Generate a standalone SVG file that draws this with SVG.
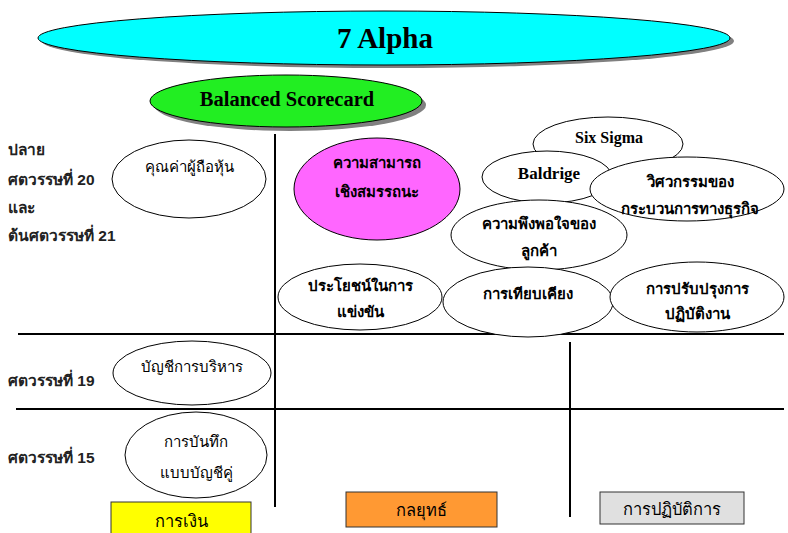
<svg xmlns="http://www.w3.org/2000/svg" width="788" height="533" viewBox="0 0 788 533">
<style>
.ol{stroke:#000;stroke-width:1;}
.w{fill:#fff;}
.sh{fill:#808080;}
.t{font-family:"Liberation Sans","Noto Sans",sans-serif;font-size:15px;fill:#000;text-anchor:middle;}
.tb{font-weight:bold;}
.bt{font-size:16.5px;}
.lab{font-family:"Liberation Sans","Noto Sans",sans-serif;font-size:15.5px;font-weight:bold;fill:#222;}
.s{font-family:"Liberation Serif",serif;font-weight:bold;fill:#000;text-anchor:middle;}
.grid{stroke:#000;stroke-width:2;fill:none;}
.box{stroke:#333;stroke-width:1;}
</style>
<rect width="788" height="533" fill="#fff"/>
<g id="connectors">
<line class="grid" x1="275" y1="134" x2="275" y2="507"/>
<line class="grid" x1="18" y1="334" x2="784" y2="334"/>
<line class="grid" x1="16" y1="409" x2="784" y2="409"/>
<line class="grid" x1="570" y1="342" x2="570" y2="517"/>
</g>
<g id="alpha">
<ellipse class="sh" cx="388" cy="41" rx="346" ry="27"/>
<ellipse class="ol" cx="384" cy="38" rx="346" ry="27" fill="#00ffff"/>
<text class="s" x="385" y="48" font-size="29">7 Alpha</text>
</g>
<g id="bsc">
<ellipse class="sh" cx="290" cy="105" rx="136" ry="26"/>
<ellipse class="ol" cx="286" cy="101" rx="136" ry="26" fill="#22ee22"/>
<text class="s" x="287" y="106" font-size="20.5">Balanced Scorecard</text>
</g>
<g id="labels">
<text class="lab" x="8" y="155">ปลาย</text>
<text class="lab" x="8" y="185">ศตวรรษที่ 20</text>
<text class="lab" x="8" y="213">และ</text>
<text class="lab" x="8" y="241">ต้นศตวรรษที่ 21</text>
<text class="lab" x="8" y="386">ศตวรรษที่ 19</text>
<text class="lab" x="8" y="463">ศตวรรษที่ 15</text>
</g>
<g id="shareholder">
<ellipse class="ol w" cx="189" cy="179" rx="77" ry="39"/>
<text class="t" x="189" y="172">คุณค่าผู้ถือหุ้น</text>
</g>
<g id="competency">
<ellipse class="ol" cx="377" cy="189" rx="83" ry="51" fill="#ff66ff"/>
<text class="t tb" x="377" y="168">ความสามารถ</text>
<text class="t tb" x="377" y="197">เชิงสมรรถนะ</text>
</g>
<g id="sixsigma">
<ellipse class="ol w" cx="608" cy="144" rx="75" ry="27"/>
<text class="s" x="609" y="143" font-size="16">Six Sigma</text>
</g>
<g id="baldrige">
<ellipse class="ol w" cx="547" cy="177" rx="65" ry="26"/>
<text class="s" x="549" y="179" font-size="17">Baldrige</text>
</g>
<g id="bpr">
<ellipse class="ol w" cx="687" cy="189" rx="97" ry="32"/>
<text class="t tb" x="690" y="187">วิศวกรรมของ</text>
<text class="t tb" x="690" y="214">กระบวนการทางธุรกิจ</text>
</g>
<g id="customer">
<ellipse class="ol w" cx="539" cy="235" rx="88" ry="35"/>
<text class="t tb" x="539" y="229">ความพึงพอใจของ</text>
<text class="t tb" x="539" y="256">ลูกค้า</text>
</g>
<g id="advantage">
<ellipse class="ol w" cx="360" cy="297" rx="82" ry="33"/>
<text class="t tb" x="360" y="291">ประโยชน์ในการ</text>
<text class="t tb" x="360" y="317">แข่งขัน</text>
</g>
<g id="benchmark">
<ellipse class="ol w" cx="528" cy="302" rx="85" ry="35"/>
<text class="t tb" x="528" y="299">การเทียบเคียง</text>
</g>
<g id="improve">
<ellipse class="ol w" cx="697" cy="297" rx="87" ry="35"/>
<text class="t tb" x="697" y="294">การปรับปรุงการ</text>
<text class="t tb" x="697" y="319">ปฏิบัติงาน</text>
</g>
<g id="mgmtacct">
<ellipse class="ol w" cx="192" cy="373" rx="79" ry="32"/>
<text class="t" x="192" y="372">บัญชีการบริหาร</text>
</g>
<g id="doubleentry">
<ellipse class="ol w" cx="196" cy="455" rx="71" ry="43"/>
<text class="t" x="196" y="447">การบันทึก</text>
<text class="t" x="196" y="478">แบบบัญชีคู่</text>
</g>
<g id="finance">
<rect class="box" x="111" y="502" width="140" height="34" fill="#ffff00"/>
<text class="t bt" x="181" y="527">การเงิน</text>
</g>
<g id="strategy">
<rect class="box" x="346" y="492" width="151" height="35" fill="#ff9933"/>
<text class="t bt" x="421" y="516">กลยุทธ์</text>
</g>
<g id="operation">
<rect class="box" x="600" y="492" width="144" height="32" fill="#e0e0e0"/>
<text class="t bt" x="672" y="515">การปฏิบัติการ</text>
</g>
</svg>
